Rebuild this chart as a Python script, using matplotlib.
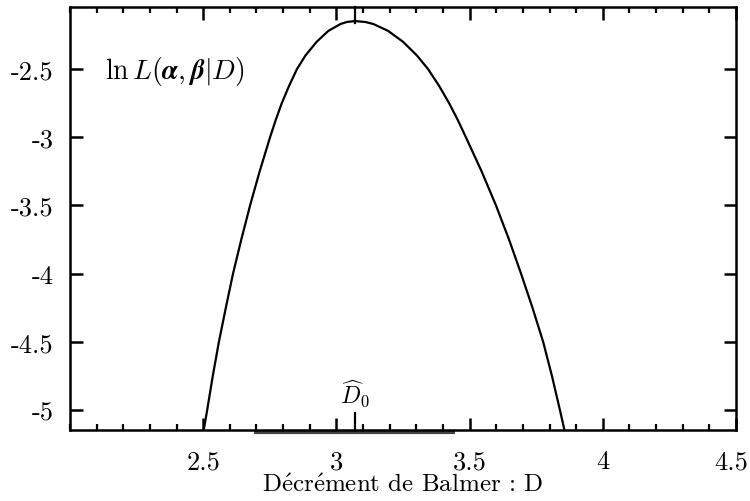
import matplotlib
matplotlib.use("Agg")
import matplotlib.pyplot as plt
import matplotlib.transforms as mtransforms

plt.rcParams['font.family'] = ['cmr10', 'DejaVu Serif']
plt.rcParams['mathtext.fontset'] = 'cm'
plt.rcParams['axes.unicode_minus'] = False

# Curve (D, ln L)
D_vals = [2.502, 2.515, 2.536, 2.559, 2.585, 2.612, 2.643, 2.676, 2.712, 2.751,
          2.772, 2.795, 2.822, 2.852, 2.884, 2.926, 2.970, 3.015, 3.039, 3.070,
          3.109, 3.139, 3.194, 3.250, 3.302, 3.344, 3.386, 3.423, 3.456, 3.486,
          3.545, 3.599, 3.648, 3.693, 3.736, 3.776, 3.809, 3.839, 3.856]
lnL_vals = [-5.147, -5.0, -4.75, -4.5, -4.25, -4.0, -3.75, -3.5, -3.25, -3.0,
            -2.875, -2.75, -2.625, -2.5, -2.4, -2.3, -2.22, -2.17, -2.155, -2.148,
            -2.155, -2.17, -2.22, -2.3, -2.4, -2.5, -2.625, -2.75, -2.875, -3.0,
            -3.25, -3.5, -3.75, -4.0, -4.25, -4.5, -4.75, -5.0, -5.147]

D0 = 3.07
interval = [2.69, 3.445]

xticks = [2.5, 3.0, 3.5, 4.0, 4.5]
xticklabels = ['2.5', '3', '3.5', '4', '4.5']
yticks = [-2.5, -3.0, -3.5, -4.0, -4.5, -5.0]
yticklabels = ['-2.5', '-3', '-3.5', '-4', '-4.5', '-5']
xminor = [2.0 + 0.1 * i for i in range(26)]
xlim = (2.0, 4.5)
ylim = (-5.147, -2.045)

fig = plt.figure(figsize=(7.5, 5.02), dpi=100)
ax = fig.add_axes([70/750, 1-431/502, (736-70)/750, (431-8)/502])

ax.plot(D_vals, lnL_vals, color='black', lw=1.6, solid_joinstyle='round')

ax.set_xlim(*xlim)
ax.set_ylim(*ylim)
ax.set_xticks(xticks)
ax.set_xticklabels(xticklabels)
ax.set_yticks(yticks)
ax.set_yticklabels(yticklabels)
ax.set_xticks(xminor, minor=True)

for s in ax.spines.values():
    s.set_linewidth(1.8)
ax.tick_params(which='major', direction='in', length=9, width=1.8,
               top=True, right=True, labelsize=19)
ax.tick_params(axis='x', which='major', pad=14)
ax.tick_params(axis='y', which='major', pad=12)
ax.tick_params(which='minor', direction='in', length=4, width=1.6,
               top=True, right=False, left=False)
ax.tick_params(axis='y', which='minor', left=False, right=False)

# keep the last x label inside the canvas
last = ax.get_xticklabels()[-1]
last.set_transform(last.get_transform() +
                   mtransforms.ScaledTranslation(-5/100, 0, fig.dpi_scale_trans))

trans = mtransforms.blended_transform_factory(ax.transData, ax.transAxes)
ax.plot([D0, D0], [0, 0.04], transform=trans, color='black', lw=1.6, clip_on=False)
ax.plot([D0, D0], [1, 0.963], transform=trans, color='black', lw=1.6, clip_on=False)
ax.plot(interval, [-0.004, -0.004], transform=trans, color='#444444', lw=3.0,
        clip_on=False, zorder=1, solid_capstyle='butt')

ax.text(D0, -4.88, r'$\widehat{D}_0$', ha='center', va='center', fontsize=17)
ax.text(2.13, -2.51, r'$\ln L(\mathbfit{\alpha},\mathbfit{\beta}|D)$',
        ha='left', va='center', fontsize=20)

ax.set_xlabel(r'D$\acute{\mathrm{e}}$cr$\acute{\mathrm{e}}$ment de Balmer : D',
              fontsize=18, labelpad=0)

fig.savefig('out.png', dpi=100)
